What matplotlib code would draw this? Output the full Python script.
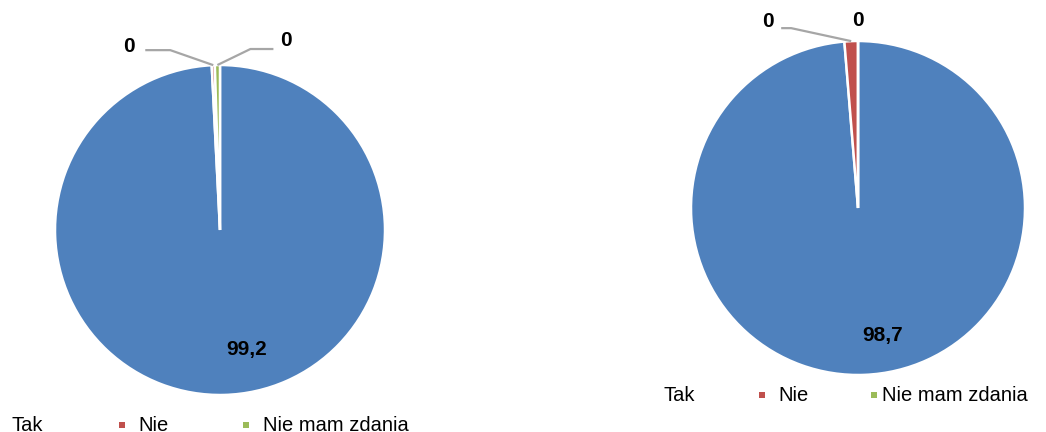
import matplotlib.pyplot as plt
import numpy as np
from matplotlib.transforms import Bbox

plt.rcParams['font.family'] = ['Liberation Sans', 'DejaVu Sans']

categories = ['Tak', 'Nie', 'Nie mam zdania']
colors = ['#4F81BD', '#C0504D', '#9BBB59']

left_values = [99.2, 0.3, 0.5]
left_labels = ['99,2', '0', '0']
right_values = [98.7, 1.3, 0.0]
right_labels = ['98,7', '0', '0']

W, H = 1046, 432
fig = plt.figure(figsize=(W / 100, H / 100), dpi=100)
ax = fig.add_axes([0, 0, 1, 1])


def draw_pie(values, labels, cx, cy, r, main_off, leaders):
    # cx, cy in pixels from top-left
    wedges, _ = ax.pie(values, colors=colors, startangle=90, counterclock=False,
                       center=(cx, H - cy), radius=r,
                       wedgeprops=dict(edgecolor='white', linewidth=1.8))
    # big label
    ax.text(cx + main_off[0], H - (cy + main_off[1]), labels[0],
            ha='center', va='center', fontsize=15, fontweight='bold')
    # small slices: leader lines from wedge edge
    for w, lab, ld in zip(wedges[1:], labels[1:], leaders):
        mid = np.deg2rad((w.theta1 + w.theta2) / 2)
        sx = cx + r * np.cos(mid)
        sy = cy - r * np.sin(mid)
        elbow, end, txt = ld
        if elbow is not None:
            xs = [sx, sx + elbow[0], sx + end[0]]
            ys = [sy, sy + elbow[1], sy + end[1]]
            ax.plot(xs, [H - y for y in ys], color='#A6A6A6', lw=1.6,
                    solid_capstyle='butt', clip_on=False)
        ax.text(sx + txt[0], H - (sy + txt[1]), lab, ha='center', va='center',
                fontsize=15, fontweight='bold')


draw_pie(left_values, left_labels, 220, 230, 165, (27, 120),
         [((-43, -15), (-68, -15), (-84, -19)),
          ((33, -16), (56, -16), (69, -25))])
draw_pie(right_values, right_labels, 858, 208, 167, (25, 127),
         [((-60, -13), (-70, -13), (-83, -20)),
          (None, None, (0, -20))])


def draw_legend(x_text, x_marker, base_y, marker_y, clip_y):
    clip = Bbox.from_extents(0, H - clip_y, W, H)
    for i, name in enumerate(categories):
        t = ax.text(x_text[i], H - base_y, name, ha='left', va='baseline',
                    fontsize=14.5)
        t.set_clip_on(True)
        t.set_clip_box(clip)
        if x_marker[i] is not None:
            ax.scatter([x_marker[i]], [H - marker_y], marker='s', s=24,
                       color=colors[i], linewidths=0, clip_on=False)


draw_legend([12, 138, 263], [None, 122, 246], 431, 424.5, 432)
draw_legend([663, 778, 882], [None, 762, 874], 401, 394.5, 403)

ax.set_xlim(0, W)
ax.set_ylim(0, H)
ax.set_aspect('auto')
ax.axis('off')

fig.savefig('out.png', dpi=100)
